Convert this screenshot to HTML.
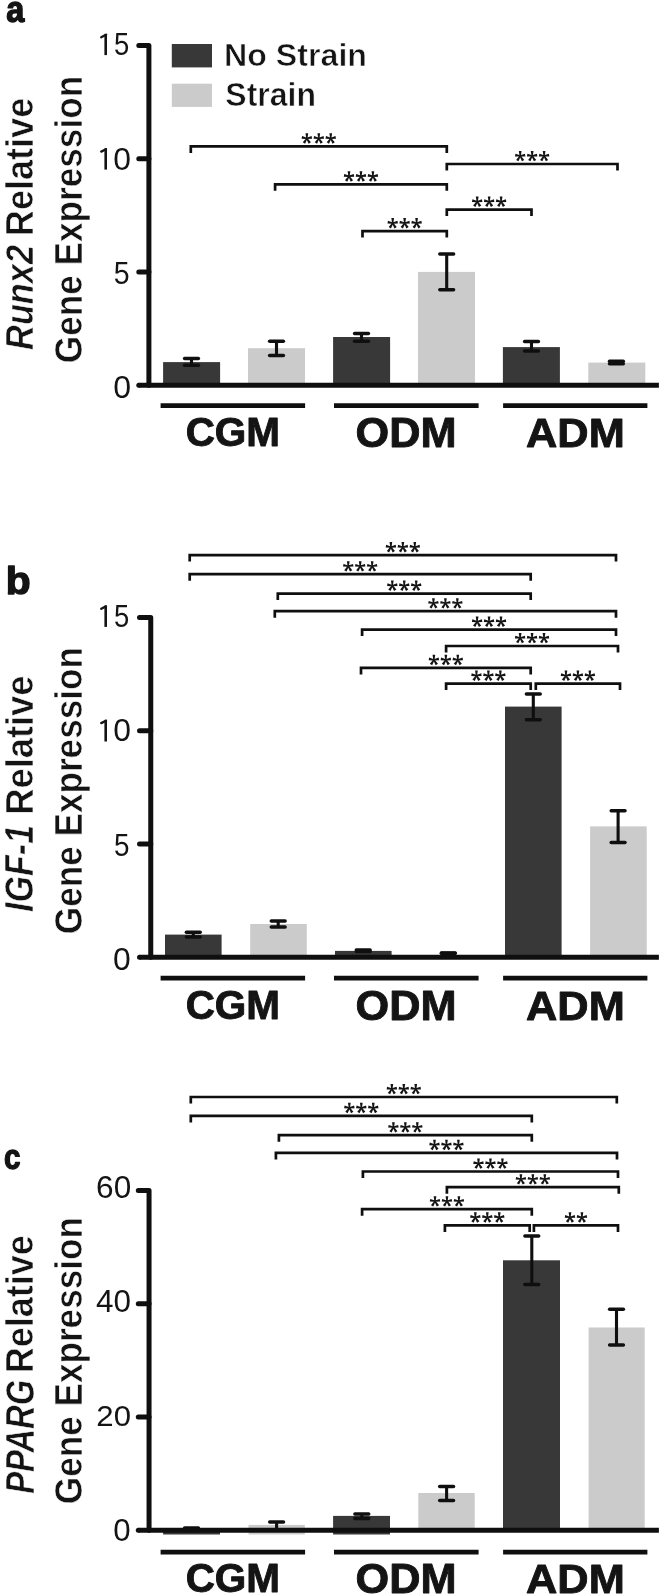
<!DOCTYPE html>
<html><head><meta charset="utf-8"><style>
html,body{margin:0;padding:0;background:#fff;}
svg{display:block;font-family:"Liberation Sans",sans-serif;will-change:transform;}
</style></head><body>
<svg width="661" height="1596" viewBox="0 0 661 1596">
<rect width="661" height="1596" fill="#fff"/>
<text transform="translate(6.33,22.33) scale(0.8880,1)" font-size="36.55" font-weight="bold" fill="#141414" stroke="#141414" stroke-width="1.40" stroke-linejoin="round">a</text>
<rect x="171.80" y="44.00" width="40.20" height="23.40" fill="#383838"/>
<rect x="171.80" y="83.70" width="40.20" height="23.20" fill="#cbcbcb"/>
<text transform="translate(224.05,65.89) scale(1.0265,1)" font-size="31.35" font-weight="bold" fill="#141414" stroke="#fff" stroke-width="0.60" stroke-linejoin="round">No Strain</text>
<text transform="translate(225.34,105.86) scale(0.9512,1)" font-size="33.65" font-weight="bold" fill="#141414" stroke="#fff" stroke-width="0.60" stroke-linejoin="round">Strain</text>
<text transform="translate(32.91,349.89) rotate(-90) scale(0.8862,1)" font-size="38.73" font-weight="bold" font-style="italic" fill="#141414" stroke="#fff" stroke-width="0.60" stroke-linejoin="round">Runx2</text>
<text transform="translate(33.21,236.13) rotate(-90) scale(0.9337,1)" font-size="38.65" font-weight="bold" fill="#141414" stroke="#fff" stroke-width="0.60" stroke-linejoin="round">Relative</text>
<text transform="translate(81.51,363.21) rotate(-90) scale(0.9135,1)" font-size="38.51" font-weight="bold" fill="#141414" stroke="#fff" stroke-width="0.60" stroke-linejoin="round">Gene Expression</text>
<rect x="163.10" y="362.10" width="57.00" height="21.90" fill="#383838"/>
<rect x="248.00" y="348.20" width="57.00" height="35.80" fill="#cbcbcb"/>
<rect x="333.10" y="337.00" width="57.00" height="47.00" fill="#383838"/>
<rect x="418.00" y="271.90" width="57.00" height="112.10" fill="#cbcbcb"/>
<rect x="502.90" y="347.10" width="57.00" height="36.90" fill="#383838"/>
<rect x="588.30" y="362.60" width="57.00" height="21.40" fill="#cbcbcb"/>
<line x1="191.50" y1="358.60" x2="191.50" y2="365.20" stroke="#0f0f0f" stroke-width="3.1" stroke-linecap="butt"/>
<line x1="184.60" y1="358.60" x2="198.40" y2="358.60" stroke="#0f0f0f" stroke-width="3.5" stroke-linecap="round"/>
<line x1="184.60" y1="365.20" x2="198.40" y2="365.20" stroke="#0f0f0f" stroke-width="3.5" stroke-linecap="round"/>
<line x1="276.50" y1="341.20" x2="276.50" y2="355.60" stroke="#0f0f0f" stroke-width="3.1" stroke-linecap="butt"/>
<line x1="269.60" y1="341.20" x2="283.40" y2="341.20" stroke="#0f0f0f" stroke-width="3.5" stroke-linecap="round"/>
<line x1="269.60" y1="355.60" x2="283.40" y2="355.60" stroke="#0f0f0f" stroke-width="3.5" stroke-linecap="round"/>
<line x1="361.50" y1="333.60" x2="361.50" y2="341.20" stroke="#0f0f0f" stroke-width="3.1" stroke-linecap="butt"/>
<line x1="354.60" y1="333.60" x2="368.40" y2="333.60" stroke="#0f0f0f" stroke-width="3.5" stroke-linecap="round"/>
<line x1="354.60" y1="341.20" x2="368.40" y2="341.20" stroke="#0f0f0f" stroke-width="3.5" stroke-linecap="round"/>
<line x1="446.70" y1="254.05" x2="446.70" y2="289.65" stroke="#0f0f0f" stroke-width="3.1" stroke-linecap="butt"/>
<line x1="439.80" y1="254.05" x2="453.60" y2="254.05" stroke="#0f0f0f" stroke-width="3.5" stroke-linecap="round"/>
<line x1="439.80" y1="289.65" x2="453.60" y2="289.65" stroke="#0f0f0f" stroke-width="3.5" stroke-linecap="round"/>
<line x1="531.50" y1="341.60" x2="531.50" y2="351.00" stroke="#0f0f0f" stroke-width="3.1" stroke-linecap="butt"/>
<line x1="524.60" y1="341.60" x2="538.40" y2="341.60" stroke="#0f0f0f" stroke-width="3.5" stroke-linecap="round"/>
<line x1="524.60" y1="351.00" x2="538.40" y2="351.00" stroke="#0f0f0f" stroke-width="3.5" stroke-linecap="round"/>
<line x1="616.40" y1="361.30" x2="616.40" y2="363.80" stroke="#0f0f0f" stroke-width="3.1" stroke-linecap="butt"/>
<line x1="609.50" y1="361.30" x2="623.30" y2="361.30" stroke="#0f0f0f" stroke-width="3.5" stroke-linecap="round"/>
<line x1="609.50" y1="363.80" x2="623.30" y2="363.80" stroke="#0f0f0f" stroke-width="3.5" stroke-linecap="round"/>
<path d="M138.80 45.40 H148.90 V385.30" fill="none" stroke="#0f0f0f" stroke-width="5.0" stroke-linecap="round" stroke-linejoin="round"/>
<line x1="138.80" y1="158.70" x2="148.90" y2="158.70" stroke="#0f0f0f" stroke-width="5.0" stroke-linecap="round"/>
<line x1="138.80" y1="272.00" x2="148.90" y2="272.00" stroke="#0f0f0f" stroke-width="5.0" stroke-linecap="round"/>
<line x1="138.80" y1="385.30" x2="658.90" y2="385.30" stroke="#0f0f0f" stroke-width="5.0" stroke-linecap="butt"/>
<circle cx="138.80" cy="385.30" r="2.50" fill="#0f0f0f"/>
<rect x="104.40" y="33.90" width="2.6" height="21.20" fill="#141414"/>
<line x1="106.00" y1="34.80" x2="101.20" y2="37.20" stroke="#141414" stroke-width="2.3" stroke-linecap="round"/>
<text transform="translate(114.10,55.09) scale(0.8813,1)" font-size="31.14" font-weight="normal" fill="#141414">5</text>
<rect x="104.40" y="148.30" width="2.6" height="21.30" fill="#141414"/>
<line x1="106.00" y1="149.20" x2="101.20" y2="151.60" stroke="#141414" stroke-width="2.3" stroke-linecap="round"/>
<text transform="translate(113.32,169.59) scale(1.0334,1)" font-size="30.85" font-weight="normal" fill="#141414">0</text>
<text transform="translate(113.86,284.19) scale(0.9072,1)" font-size="31.43" font-weight="normal" fill="#141414">5</text>
<text transform="translate(113.22,398.09) scale(1.0307,1)" font-size="31.13" font-weight="normal" fill="#141414">0</text>
<line x1="160.60" y1="405.70" x2="305.10" y2="405.70" stroke="#0f0f0f" stroke-width="4.8" stroke-linecap="butt"/>
<line x1="334.00" y1="405.70" x2="478.60" y2="405.70" stroke="#0f0f0f" stroke-width="4.8" stroke-linecap="butt"/>
<line x1="503.10" y1="405.70" x2="647.40" y2="405.70" stroke="#0f0f0f" stroke-width="4.8" stroke-linecap="butt"/>
<text transform="translate(185.63,446.45) scale(1.0159,1)" font-size="39.86" font-weight="bold" fill="#141414" stroke="#141414" stroke-width="0.90" stroke-linejoin="round">CGM</text>
<text transform="translate(355.62,447.23) scale(1.0321,1)" font-size="41.97" font-weight="bold" fill="#141414" stroke="#141414" stroke-width="0.90" stroke-linejoin="round">ODM</text>
<text transform="translate(526.05,447.05) scale(1.0458,1)" font-size="41.45" font-weight="bold" fill="#141414" stroke="#141414" stroke-width="0.90" stroke-linejoin="round">ADM</text>
<path d="M190.8 152.9 V146.4 H446.8 V152.9" fill="none" stroke="#0f0f0f" stroke-width="2.7"/>
<path d="M307.50 138.35 L308.20 133.35 L305.50 133.35 L306.20 138.35ZM306.97 137.71 L302.09 136.12 L301.61 138.78 L306.73 138.99ZM306.97 138.99 L312.09 138.78 L311.61 136.12 L306.73 137.71ZM306.30 138.01 L302.80 142.34 L305.10 143.76 L307.40 138.69ZM306.30 138.69 L308.60 143.76 L310.90 142.34 L307.40 138.01Z" fill="#141414"/>
<path d="M319.45 138.35 L320.15 133.35 L317.45 133.35 L318.15 138.35ZM318.92 137.71 L314.04 136.12 L313.56 138.78 L318.68 138.99ZM318.92 138.99 L324.04 138.78 L323.56 136.12 L318.68 137.71ZM318.25 138.01 L314.75 142.34 L317.05 143.76 L319.35 138.69ZM318.25 138.69 L320.55 143.76 L322.85 142.34 L319.35 138.01Z" fill="#141414"/>
<path d="M331.40 138.35 L332.10 133.35 L329.40 133.35 L330.10 138.35ZM330.87 137.71 L325.99 136.12 L325.51 138.78 L330.63 138.99ZM330.87 138.99 L335.99 138.78 L335.51 136.12 L330.63 137.71ZM330.20 138.01 L326.70 142.34 L329.00 143.76 L331.30 138.69ZM330.20 138.69 L332.50 143.76 L334.80 142.34 L331.30 138.01Z" fill="#141414"/>
<path d="M275.1 190.8 V184.3 H446.8 V190.8" fill="none" stroke="#0f0f0f" stroke-width="2.7"/>
<path d="M349.65 176.25 L350.35 171.25 L347.65 171.25 L348.35 176.25ZM349.12 175.61 L344.24 174.02 L343.76 176.68 L348.88 176.89ZM349.12 176.89 L354.24 176.68 L353.76 174.02 L348.88 175.61ZM348.45 175.91 L344.95 180.24 L347.25 181.66 L349.55 176.59ZM348.45 176.59 L350.75 181.66 L353.05 180.24 L349.55 175.91Z" fill="#141414"/>
<path d="M361.60 176.25 L362.30 171.25 L359.60 171.25 L360.30 176.25ZM361.07 175.61 L356.19 174.02 L355.71 176.68 L360.83 176.89ZM361.07 176.89 L366.19 176.68 L365.71 174.02 L360.83 175.61ZM360.40 175.91 L356.90 180.24 L359.20 181.66 L361.50 176.59ZM360.40 176.59 L362.70 181.66 L365.00 180.24 L361.50 175.91Z" fill="#141414"/>
<path d="M373.55 176.25 L374.25 171.25 L371.55 171.25 L372.25 176.25ZM373.02 175.61 L368.14 174.02 L367.66 176.68 L372.78 176.89ZM373.02 176.89 L378.14 176.68 L377.66 174.02 L372.78 175.61ZM372.35 175.91 L368.85 180.24 L371.15 181.66 L373.45 176.59ZM372.35 176.59 L374.65 181.66 L376.95 180.24 L373.45 175.91Z" fill="#141414"/>
<path d="M362.5 237.6 V231.1 H446.8 V237.6" fill="none" stroke="#0f0f0f" stroke-width="2.7"/>
<path d="M393.35 223.05 L394.05 218.05 L391.35 218.05 L392.05 223.05ZM392.82 222.41 L387.94 220.82 L387.46 223.48 L392.58 223.69ZM392.82 223.69 L397.94 223.48 L397.46 220.82 L392.58 222.41ZM392.15 222.71 L388.65 227.04 L390.95 228.46 L393.25 223.39ZM392.15 223.39 L394.45 228.46 L396.75 227.04 L393.25 222.71Z" fill="#141414"/>
<path d="M405.30 223.05 L406.00 218.05 L403.30 218.05 L404.00 223.05ZM404.77 222.41 L399.89 220.82 L399.41 223.48 L404.53 223.69ZM404.77 223.69 L409.89 223.48 L409.41 220.82 L404.53 222.41ZM404.10 222.71 L400.60 227.04 L402.90 228.46 L405.20 223.39ZM404.10 223.39 L406.40 228.46 L408.70 227.04 L405.20 222.71Z" fill="#141414"/>
<path d="M417.25 223.05 L417.95 218.05 L415.25 218.05 L415.95 223.05ZM416.72 222.41 L411.84 220.82 L411.36 223.48 L416.48 223.69ZM416.72 223.69 L421.84 223.48 L421.36 220.82 L416.48 222.41ZM416.05 222.71 L412.55 227.04 L414.85 228.46 L417.15 223.39ZM416.05 223.39 L418.35 228.46 L420.65 227.04 L417.15 222.71Z" fill="#141414"/>
<path d="M446.8 170.5 V164.0 H617.5 V170.5" fill="none" stroke="#0f0f0f" stroke-width="2.7"/>
<path d="M520.85 155.95 L521.55 150.95 L518.85 150.95 L519.55 155.95ZM520.32 155.31 L515.44 153.72 L514.96 156.38 L520.08 156.59ZM520.32 156.59 L525.44 156.38 L524.96 153.72 L520.08 155.31ZM519.65 155.61 L516.15 159.94 L518.45 161.36 L520.75 156.29ZM519.65 156.29 L521.95 161.36 L524.25 159.94 L520.75 155.61Z" fill="#141414"/>
<path d="M532.80 155.95 L533.50 150.95 L530.80 150.95 L531.50 155.95ZM532.27 155.31 L527.39 153.72 L526.91 156.38 L532.03 156.59ZM532.27 156.59 L537.39 156.38 L536.91 153.72 L532.03 155.31ZM531.60 155.61 L528.10 159.94 L530.40 161.36 L532.70 156.29ZM531.60 156.29 L533.90 161.36 L536.20 159.94 L532.70 155.61Z" fill="#141414"/>
<path d="M544.75 155.95 L545.45 150.95 L542.75 150.95 L543.45 155.95ZM544.22 155.31 L539.34 153.72 L538.86 156.38 L543.98 156.59ZM544.22 156.59 L549.34 156.38 L548.86 153.72 L543.98 155.31ZM543.55 155.61 L540.05 159.94 L542.35 161.36 L544.65 156.29ZM543.55 156.29 L545.85 161.36 L548.15 159.94 L544.65 155.61Z" fill="#141414"/>
<path d="M446.8 216.1 V209.6 H531.5 V216.1" fill="none" stroke="#0f0f0f" stroke-width="2.7"/>
<path d="M477.85 201.55 L478.55 196.55 L475.85 196.55 L476.55 201.55ZM477.32 200.91 L472.44 199.32 L471.96 201.98 L477.08 202.19ZM477.32 202.19 L482.44 201.98 L481.96 199.32 L477.08 200.91ZM476.65 201.21 L473.15 205.54 L475.45 206.96 L477.75 201.89ZM476.65 201.89 L478.95 206.96 L481.25 205.54 L477.75 201.21Z" fill="#141414"/>
<path d="M489.80 201.55 L490.50 196.55 L487.80 196.55 L488.50 201.55ZM489.27 200.91 L484.39 199.32 L483.91 201.98 L489.03 202.19ZM489.27 202.19 L494.39 201.98 L493.91 199.32 L489.03 200.91ZM488.60 201.21 L485.10 205.54 L487.40 206.96 L489.70 201.89ZM488.60 201.89 L490.90 206.96 L493.20 205.54 L489.70 201.21Z" fill="#141414"/>
<path d="M501.75 201.55 L502.45 196.55 L499.75 196.55 L500.45 201.55ZM501.22 200.91 L496.34 199.32 L495.86 201.98 L500.98 202.19ZM501.22 202.19 L506.34 201.98 L505.86 199.32 L500.98 200.91ZM500.55 201.21 L497.05 205.54 L499.35 206.96 L501.65 201.89ZM500.55 201.89 L502.85 206.96 L505.15 205.54 L501.65 201.21Z" fill="#141414"/>
<text transform="translate(5.74,594.40) scale(1.0306,1)" font-size="39.59" font-weight="bold" fill="#141414" stroke="#141414" stroke-width="1.40" stroke-linejoin="round">b</text>
<text transform="translate(33.30,911.88) rotate(-90) scale(0.8419,1)" font-size="40.42" font-weight="bold" font-style="italic" fill="#141414" stroke="#fff" stroke-width="0.60" stroke-linejoin="round">IGF-1</text>
<text transform="translate(33.21,814.64) rotate(-90) scale(0.9379,1)" font-size="38.65" font-weight="bold" fill="#141414" stroke="#fff" stroke-width="0.60" stroke-linejoin="round">Relative</text>
<text transform="translate(81.51,934.21) rotate(-90) scale(0.9132,1)" font-size="38.51" font-weight="bold" fill="#141414" stroke="#fff" stroke-width="0.60" stroke-linejoin="round">Gene Expression</text>
<rect x="165.00" y="934.60" width="56.60" height="21.40" fill="#383838"/>
<rect x="250.20" y="924.00" width="56.60" height="32.00" fill="#cbcbcb"/>
<rect x="335.00" y="950.90" width="56.60" height="5.10" fill="#383838"/>
<rect x="420.00" y="955.20" width="56.60" height="0.80" fill="#cbcbcb"/>
<rect x="505.00" y="706.60" width="56.60" height="249.40" fill="#383838"/>
<rect x="590.10" y="826.40" width="56.60" height="129.60" fill="#cbcbcb"/>
<line x1="193.30" y1="932.30" x2="193.30" y2="937.00" stroke="#0f0f0f" stroke-width="3.1" stroke-linecap="butt"/>
<line x1="186.40" y1="932.30" x2="200.20" y2="932.30" stroke="#0f0f0f" stroke-width="3.5" stroke-linecap="round"/>
<line x1="186.40" y1="937.00" x2="200.20" y2="937.00" stroke="#0f0f0f" stroke-width="3.5" stroke-linecap="round"/>
<line x1="278.20" y1="921.00" x2="278.20" y2="927.00" stroke="#0f0f0f" stroke-width="3.1" stroke-linecap="butt"/>
<line x1="271.30" y1="921.00" x2="285.10" y2="921.00" stroke="#0f0f0f" stroke-width="3.5" stroke-linecap="round"/>
<line x1="271.30" y1="927.00" x2="285.10" y2="927.00" stroke="#0f0f0f" stroke-width="3.5" stroke-linecap="round"/>
<line x1="363.20" y1="950.00" x2="363.20" y2="951.60" stroke="#0f0f0f" stroke-width="3.1" stroke-linecap="butt"/>
<line x1="356.30" y1="950.00" x2="370.10" y2="950.00" stroke="#0f0f0f" stroke-width="3.5" stroke-linecap="round"/>
<line x1="356.30" y1="951.60" x2="370.10" y2="951.60" stroke="#0f0f0f" stroke-width="3.5" stroke-linecap="round"/>
<line x1="448.30" y1="953.00" x2="448.30" y2="953.20" stroke="#0f0f0f" stroke-width="3.1" stroke-linecap="butt"/>
<line x1="441.40" y1="953.00" x2="455.20" y2="953.00" stroke="#0f0f0f" stroke-width="3.5" stroke-linecap="round"/>
<line x1="441.40" y1="953.20" x2="455.20" y2="953.20" stroke="#0f0f0f" stroke-width="3.5" stroke-linecap="round"/>
<line x1="533.30" y1="693.90" x2="533.30" y2="719.80" stroke="#0f0f0f" stroke-width="3.1" stroke-linecap="butt"/>
<line x1="526.40" y1="693.90" x2="540.20" y2="693.90" stroke="#0f0f0f" stroke-width="3.5" stroke-linecap="round"/>
<line x1="526.40" y1="719.80" x2="540.20" y2="719.80" stroke="#0f0f0f" stroke-width="3.5" stroke-linecap="round"/>
<line x1="618.10" y1="810.70" x2="618.10" y2="842.60" stroke="#0f0f0f" stroke-width="3.1" stroke-linecap="butt"/>
<line x1="611.20" y1="810.70" x2="625.00" y2="810.70" stroke="#0f0f0f" stroke-width="3.5" stroke-linecap="round"/>
<line x1="611.20" y1="842.60" x2="625.00" y2="842.60" stroke="#0f0f0f" stroke-width="3.5" stroke-linecap="round"/>
<path d="M139.50 617.40 H150.75 V957.30" fill="none" stroke="#0f0f0f" stroke-width="5.0" stroke-linecap="round" stroke-linejoin="round"/>
<line x1="139.50" y1="730.70" x2="150.75" y2="730.70" stroke="#0f0f0f" stroke-width="5.0" stroke-linecap="round"/>
<line x1="139.50" y1="844.00" x2="150.75" y2="844.00" stroke="#0f0f0f" stroke-width="5.0" stroke-linecap="round"/>
<line x1="139.50" y1="957.30" x2="658.90" y2="957.30" stroke="#0f0f0f" stroke-width="5.0" stroke-linecap="butt"/>
<circle cx="139.50" cy="957.30" r="2.50" fill="#0f0f0f"/>
<rect x="104.40" y="605.50" width="2.6" height="21.40" fill="#141414"/>
<line x1="106.00" y1="606.40" x2="101.20" y2="608.80" stroke="#141414" stroke-width="2.3" stroke-linecap="round"/>
<text transform="translate(114.10,626.89) scale(0.8733,1)" font-size="31.43" font-weight="normal" fill="#141414">5</text>
<rect x="104.40" y="719.80" width="2.6" height="21.70" fill="#141414"/>
<line x1="106.00" y1="720.70" x2="101.20" y2="723.10" stroke="#141414" stroke-width="2.3" stroke-linecap="round"/>
<text transform="translate(113.32,741.49) scale(1.0149,1)" font-size="31.41" font-weight="normal" fill="#141414">0</text>
<text transform="translate(113.89,855.98) scale(0.8789,1)" font-size="31.71" font-weight="normal" fill="#141414">5</text>
<text transform="translate(113.02,970.49) scale(1.0287,1)" font-size="30.99" font-weight="normal" fill="#141414">0</text>
<line x1="160.60" y1="978.20" x2="305.10" y2="978.20" stroke="#0f0f0f" stroke-width="4.8" stroke-linecap="butt"/>
<line x1="334.00" y1="978.20" x2="478.60" y2="978.20" stroke="#0f0f0f" stroke-width="4.8" stroke-linecap="butt"/>
<line x1="503.10" y1="978.20" x2="647.40" y2="978.20" stroke="#0f0f0f" stroke-width="4.8" stroke-linecap="butt"/>
<text transform="translate(185.63,1018.95) scale(1.0159,1)" font-size="39.86" font-weight="bold" fill="#141414" stroke="#141414" stroke-width="0.90" stroke-linejoin="round">CGM</text>
<text transform="translate(355.62,1019.73) scale(1.0321,1)" font-size="41.97" font-weight="bold" fill="#141414" stroke="#141414" stroke-width="0.90" stroke-linejoin="round">ODM</text>
<text transform="translate(526.05,1019.55) scale(1.0458,1)" font-size="41.45" font-weight="bold" fill="#141414" stroke="#141414" stroke-width="0.90" stroke-linejoin="round">ADM</text>
<path d="M189.7 561.6 V555.1 H616 V561.6" fill="none" stroke="#0f0f0f" stroke-width="2.7"/>
<path d="M391.55 547.05 L392.25 542.05 L389.55 542.05 L390.25 547.05ZM391.02 546.41 L386.14 544.82 L385.66 547.48 L390.78 547.69ZM391.02 547.69 L396.14 547.48 L395.66 544.82 L390.78 546.41ZM390.35 546.71 L386.85 551.04 L389.15 552.46 L391.45 547.39ZM390.35 547.39 L392.65 552.46 L394.95 551.04 L391.45 546.71Z" fill="#141414"/>
<path d="M403.50 547.05 L404.20 542.05 L401.50 542.05 L402.20 547.05ZM402.97 546.41 L398.09 544.82 L397.61 547.48 L402.73 547.69ZM402.97 547.69 L408.09 547.48 L407.61 544.82 L402.73 546.41ZM402.30 546.71 L398.80 551.04 L401.10 552.46 L403.40 547.39ZM402.30 547.39 L404.60 552.46 L406.90 551.04 L403.40 546.71Z" fill="#141414"/>
<path d="M415.45 547.05 L416.15 542.05 L413.45 542.05 L414.15 547.05ZM414.92 546.41 L410.04 544.82 L409.56 547.48 L414.68 547.69ZM414.92 547.69 L420.04 547.48 L419.56 544.82 L414.68 546.41ZM414.25 546.71 L410.75 551.04 L413.05 552.46 L415.35 547.39ZM414.25 547.39 L416.55 552.46 L418.85 551.04 L415.35 546.71Z" fill="#141414"/>
<path d="M189.7 580.7 V574.2 H530.7 V580.7" fill="none" stroke="#0f0f0f" stroke-width="2.7"/>
<path d="M348.90 566.15 L349.60 561.15 L346.90 561.15 L347.60 566.15ZM348.37 565.51 L343.49 563.92 L343.01 566.58 L348.13 566.79ZM348.37 566.79 L353.49 566.58 L353.01 563.92 L348.13 565.51ZM347.70 565.81 L344.20 570.14 L346.50 571.56 L348.80 566.49ZM347.70 566.49 L350.00 571.56 L352.30 570.14 L348.80 565.81Z" fill="#141414"/>
<path d="M360.85 566.15 L361.55 561.15 L358.85 561.15 L359.55 566.15ZM360.32 565.51 L355.44 563.92 L354.96 566.58 L360.08 566.79ZM360.32 566.79 L365.44 566.58 L364.96 563.92 L360.08 565.51ZM359.65 565.81 L356.15 570.14 L358.45 571.56 L360.75 566.49ZM359.65 566.49 L361.95 571.56 L364.25 570.14 L360.75 565.81Z" fill="#141414"/>
<path d="M372.80 566.15 L373.50 561.15 L370.80 561.15 L371.50 566.15ZM372.27 565.51 L367.39 563.92 L366.91 566.58 L372.03 566.79ZM372.27 566.79 L377.39 566.58 L376.91 563.92 L372.03 565.51ZM371.60 565.81 L368.10 570.14 L370.40 571.56 L372.70 566.49ZM371.60 566.49 L373.90 571.56 L376.20 570.14 L372.70 565.81Z" fill="#141414"/>
<path d="M277.8 600.1 V593.6 H530.7 V600.1" fill="none" stroke="#0f0f0f" stroke-width="2.7"/>
<path d="M392.95 585.55 L393.65 580.55 L390.95 580.55 L391.65 585.55ZM392.42 584.91 L387.54 583.32 L387.06 585.98 L392.18 586.19ZM392.42 586.19 L397.54 585.98 L397.06 583.32 L392.18 584.91ZM391.75 585.21 L388.25 589.54 L390.55 590.96 L392.85 585.89ZM391.75 585.89 L394.05 590.96 L396.35 589.54 L392.85 585.21Z" fill="#141414"/>
<path d="M404.90 585.55 L405.60 580.55 L402.90 580.55 L403.60 585.55ZM404.37 584.91 L399.49 583.32 L399.01 585.98 L404.13 586.19ZM404.37 586.19 L409.49 585.98 L409.01 583.32 L404.13 584.91ZM403.70 585.21 L400.20 589.54 L402.50 590.96 L404.80 585.89ZM403.70 585.89 L406.00 590.96 L408.30 589.54 L404.80 585.21Z" fill="#141414"/>
<path d="M416.85 585.55 L417.55 580.55 L414.85 580.55 L415.55 585.55ZM416.32 584.91 L411.44 583.32 L410.96 585.98 L416.08 586.19ZM416.32 586.19 L421.44 585.98 L420.96 583.32 L416.08 584.91ZM415.65 585.21 L412.15 589.54 L414.45 590.96 L416.75 585.89ZM415.65 585.89 L417.95 590.96 L420.25 589.54 L416.75 585.21Z" fill="#141414"/>
<path d="M274.8 617.7 V611.2 H616 V617.7" fill="none" stroke="#0f0f0f" stroke-width="2.7"/>
<path d="M434.10 603.15 L434.80 598.15 L432.10 598.15 L432.80 603.15ZM433.57 602.51 L428.69 600.92 L428.21 603.58 L433.33 603.79ZM433.57 603.79 L438.69 603.58 L438.21 600.92 L433.33 602.51ZM432.90 602.81 L429.40 607.14 L431.70 608.56 L434.00 603.49ZM432.90 603.49 L435.20 608.56 L437.50 607.14 L434.00 602.81Z" fill="#141414"/>
<path d="M446.05 603.15 L446.75 598.15 L444.05 598.15 L444.75 603.15ZM445.52 602.51 L440.64 600.92 L440.16 603.58 L445.28 603.79ZM445.52 603.79 L450.64 603.58 L450.16 600.92 L445.28 602.51ZM444.85 602.81 L441.35 607.14 L443.65 608.56 L445.95 603.49ZM444.85 603.49 L447.15 608.56 L449.45 607.14 L445.95 602.81Z" fill="#141414"/>
<path d="M458.00 603.15 L458.70 598.15 L456.00 598.15 L456.70 603.15ZM457.47 602.51 L452.59 600.92 L452.11 603.58 L457.23 603.79ZM457.47 603.79 L462.59 603.58 L462.11 600.92 L457.23 602.51ZM456.80 602.81 L453.30 607.14 L455.60 608.56 L457.90 603.49ZM456.80 603.49 L459.10 608.56 L461.40 607.14 L457.90 602.81Z" fill="#141414"/>
<path d="M362.1 636.1 V629.6 H616 V636.1" fill="none" stroke="#0f0f0f" stroke-width="2.7"/>
<path d="M477.75 621.55 L478.45 616.55 L475.75 616.55 L476.45 621.55ZM477.22 620.91 L472.34 619.32 L471.86 621.98 L476.98 622.19ZM477.22 622.19 L482.34 621.98 L481.86 619.32 L476.98 620.91ZM476.55 621.21 L473.05 625.54 L475.35 626.96 L477.65 621.89ZM476.55 621.89 L478.85 626.96 L481.15 625.54 L477.65 621.21Z" fill="#141414"/>
<path d="M489.70 621.55 L490.40 616.55 L487.70 616.55 L488.40 621.55ZM489.17 620.91 L484.29 619.32 L483.81 621.98 L488.93 622.19ZM489.17 622.19 L494.29 621.98 L493.81 619.32 L488.93 620.91ZM488.50 621.21 L485.00 625.54 L487.30 626.96 L489.60 621.89ZM488.50 621.89 L490.80 626.96 L493.10 625.54 L489.60 621.21Z" fill="#141414"/>
<path d="M501.65 621.55 L502.35 616.55 L499.65 616.55 L500.35 621.55ZM501.12 620.91 L496.24 619.32 L495.76 621.98 L500.88 622.19ZM501.12 622.19 L506.24 621.98 L505.76 619.32 L500.88 620.91ZM500.45 621.21 L496.95 625.54 L499.25 626.96 L501.55 621.89ZM500.45 621.89 L502.75 626.96 L505.05 625.54 L501.55 621.21Z" fill="#141414"/>
<path d="M446.1 652.5 V646.0 H618 V652.5" fill="none" stroke="#0f0f0f" stroke-width="2.7"/>
<path d="M520.75 637.95 L521.45 632.95 L518.75 632.95 L519.45 637.95ZM520.22 637.31 L515.34 635.72 L514.86 638.38 L519.98 638.59ZM520.22 638.59 L525.34 638.38 L524.86 635.72 L519.98 637.31ZM519.55 637.61 L516.05 641.94 L518.35 643.36 L520.65 638.29ZM519.55 638.29 L521.85 643.36 L524.15 641.94 L520.65 637.61Z" fill="#141414"/>
<path d="M532.70 637.95 L533.40 632.95 L530.70 632.95 L531.40 637.95ZM532.17 637.31 L527.29 635.72 L526.81 638.38 L531.93 638.59ZM532.17 638.59 L537.29 638.38 L536.81 635.72 L531.93 637.31ZM531.50 637.61 L528.00 641.94 L530.30 643.36 L532.60 638.29ZM531.50 638.29 L533.80 643.36 L536.10 641.94 L532.60 637.61Z" fill="#141414"/>
<path d="M544.65 637.95 L545.35 632.95 L542.65 632.95 L543.35 637.95ZM544.12 637.31 L539.24 635.72 L538.76 638.38 L543.88 638.59ZM544.12 638.59 L549.24 638.38 L548.76 635.72 L543.88 637.31ZM543.45 637.61 L539.95 641.94 L542.25 643.36 L544.55 638.29ZM543.45 638.29 L545.75 643.36 L548.05 641.94 L544.55 637.61Z" fill="#141414"/>
<path d="M361.0 674.4 V667.9 H530.7 V674.4" fill="none" stroke="#0f0f0f" stroke-width="2.7"/>
<path d="M434.55 659.85 L435.25 654.85 L432.55 654.85 L433.25 659.85ZM434.02 659.21 L429.14 657.62 L428.66 660.28 L433.78 660.49ZM434.02 660.49 L439.14 660.28 L438.66 657.62 L433.78 659.21ZM433.35 659.51 L429.85 663.84 L432.15 665.26 L434.45 660.19ZM433.35 660.19 L435.65 665.26 L437.95 663.84 L434.45 659.51Z" fill="#141414"/>
<path d="M446.50 659.85 L447.20 654.85 L444.50 654.85 L445.20 659.85ZM445.97 659.21 L441.09 657.62 L440.61 660.28 L445.73 660.49ZM445.97 660.49 L451.09 660.28 L450.61 657.62 L445.73 659.21ZM445.30 659.51 L441.80 663.84 L444.10 665.26 L446.40 660.19ZM445.30 660.19 L447.60 665.26 L449.90 663.84 L446.40 659.51Z" fill="#141414"/>
<path d="M458.45 659.85 L459.15 654.85 L456.45 654.85 L457.15 659.85ZM457.92 659.21 L453.04 657.62 L452.56 660.28 L457.68 660.49ZM457.92 660.49 L463.04 660.28 L462.56 657.62 L457.68 659.21ZM457.25 659.51 L453.75 663.84 L456.05 665.26 L458.35 660.19ZM457.25 660.19 L459.55 665.26 L461.85 663.84 L458.35 659.51Z" fill="#141414"/>
<path d="M446.1 690.1 V683.6 H530.7 V690.1" fill="none" stroke="#0f0f0f" stroke-width="2.7"/>
<path d="M477.10 675.55 L477.80 670.55 L475.10 670.55 L475.80 675.55ZM476.57 674.91 L471.69 673.32 L471.21 675.98 L476.33 676.19ZM476.57 676.19 L481.69 675.98 L481.21 673.32 L476.33 674.91ZM475.90 675.21 L472.40 679.54 L474.70 680.96 L477.00 675.89ZM475.90 675.89 L478.20 680.96 L480.50 679.54 L477.00 675.21Z" fill="#141414"/>
<path d="M489.05 675.55 L489.75 670.55 L487.05 670.55 L487.75 675.55ZM488.52 674.91 L483.64 673.32 L483.16 675.98 L488.28 676.19ZM488.52 676.19 L493.64 675.98 L493.16 673.32 L488.28 674.91ZM487.85 675.21 L484.35 679.54 L486.65 680.96 L488.95 675.89ZM487.85 675.89 L490.15 680.96 L492.45 679.54 L488.95 675.21Z" fill="#141414"/>
<path d="M501.00 675.55 L501.70 670.55 L499.00 670.55 L499.70 675.55ZM500.47 674.91 L495.59 673.32 L495.11 675.98 L500.23 676.19ZM500.47 676.19 L505.59 675.98 L505.11 673.32 L500.23 674.91ZM499.80 675.21 L496.30 679.54 L498.60 680.96 L500.90 675.89ZM499.80 675.89 L502.10 680.96 L504.40 679.54 L500.90 675.21Z" fill="#141414"/>
<path d="M535.8 690.1 V683.6 H620 V690.1" fill="none" stroke="#0f0f0f" stroke-width="2.7"/>
<path d="M566.60 675.55 L567.30 670.55 L564.60 670.55 L565.30 675.55ZM566.07 674.91 L561.19 673.32 L560.71 675.98 L565.83 676.19ZM566.07 676.19 L571.19 675.98 L570.71 673.32 L565.83 674.91ZM565.40 675.21 L561.90 679.54 L564.20 680.96 L566.50 675.89ZM565.40 675.89 L567.70 680.96 L570.00 679.54 L566.50 675.21Z" fill="#141414"/>
<path d="M578.55 675.55 L579.25 670.55 L576.55 670.55 L577.25 675.55ZM578.02 674.91 L573.14 673.32 L572.66 675.98 L577.78 676.19ZM578.02 676.19 L583.14 675.98 L582.66 673.32 L577.78 674.91ZM577.35 675.21 L573.85 679.54 L576.15 680.96 L578.45 675.89ZM577.35 675.89 L579.65 680.96 L581.95 679.54 L578.45 675.21Z" fill="#141414"/>
<path d="M590.50 675.55 L591.20 670.55 L588.50 670.55 L589.20 675.55ZM589.97 674.91 L585.09 673.32 L584.61 675.98 L589.73 676.19ZM589.97 676.19 L595.09 675.98 L594.61 673.32 L589.73 674.91ZM589.30 675.21 L585.80 679.54 L588.10 680.96 L590.40 675.89ZM589.30 675.89 L591.60 680.96 L593.90 679.54 L590.40 675.21Z" fill="#141414"/>
<text transform="translate(4.02,1169.05) scale(0.8566,1)" font-size="34.55" font-weight="bold" fill="#141414" stroke="#141414" stroke-width="1.40" stroke-linejoin="round">c</text>
<text transform="translate(33.50,1493.86) rotate(-90) scale(0.8107,1)" font-size="40.42" font-weight="bold" font-style="italic" fill="#141414" stroke="#fff" stroke-width="0.60" stroke-linejoin="round">PPARG</text>
<text transform="translate(33.21,1373.32) rotate(-90) scale(0.9323,1)" font-size="38.65" font-weight="bold" fill="#141414" stroke="#fff" stroke-width="0.60" stroke-linejoin="round">Relative</text>
<text transform="translate(81.51,1504.21) rotate(-90) scale(0.9132,1)" font-size="38.51" font-weight="bold" fill="#141414" stroke="#fff" stroke-width="0.60" stroke-linejoin="round">Gene Expression</text>
<rect x="163.10" y="1530.50" width="56.90" height="4.00" fill="#383838"/>
<rect x="248.50" y="1524.90" width="56.30" height="9.60" fill="#cbcbcb"/>
<rect x="333.10" y="1515.90" width="56.90" height="18.60" fill="#383838"/>
<rect x="418.30" y="1493.00" width="56.40" height="36.00" fill="#cbcbcb"/>
<rect x="503.00" y="1260.30" width="57.00" height="268.70" fill="#383838"/>
<rect x="588.60" y="1327.50" width="56.10" height="201.50" fill="#cbcbcb"/>
<line x1="191.50" y1="1528.00" x2="191.50" y2="1530.50" stroke="#0f0f0f" stroke-width="3.1" stroke-linecap="butt"/>
<line x1="184.60" y1="1528.00" x2="198.40" y2="1528.00" stroke="#0f0f0f" stroke-width="3.5" stroke-linecap="round"/>
<line x1="184.60" y1="1530.50" x2="198.40" y2="1530.50" stroke="#0f0f0f" stroke-width="3.5" stroke-linecap="round"/>
<line x1="276.60" y1="1522.00" x2="276.60" y2="1530.00" stroke="#0f0f0f" stroke-width="3.1" stroke-linecap="butt"/>
<line x1="269.70" y1="1522.00" x2="283.50" y2="1522.00" stroke="#0f0f0f" stroke-width="3.5" stroke-linecap="round"/>
<line x1="269.70" y1="1530.00" x2="283.50" y2="1530.00" stroke="#0f0f0f" stroke-width="3.5" stroke-linecap="round"/>
<line x1="361.80" y1="1514.00" x2="361.80" y2="1518.40" stroke="#0f0f0f" stroke-width="3.1" stroke-linecap="butt"/>
<line x1="354.90" y1="1514.00" x2="368.70" y2="1514.00" stroke="#0f0f0f" stroke-width="3.5" stroke-linecap="round"/>
<line x1="354.90" y1="1518.40" x2="368.70" y2="1518.40" stroke="#0f0f0f" stroke-width="3.5" stroke-linecap="round"/>
<line x1="446.60" y1="1486.50" x2="446.60" y2="1500.60" stroke="#0f0f0f" stroke-width="3.1" stroke-linecap="butt"/>
<line x1="439.70" y1="1486.50" x2="453.50" y2="1486.50" stroke="#0f0f0f" stroke-width="3.5" stroke-linecap="round"/>
<line x1="439.70" y1="1500.60" x2="453.50" y2="1500.60" stroke="#0f0f0f" stroke-width="3.5" stroke-linecap="round"/>
<line x1="531.80" y1="1236.00" x2="531.80" y2="1284.40" stroke="#0f0f0f" stroke-width="3.1" stroke-linecap="butt"/>
<line x1="524.90" y1="1236.00" x2="538.70" y2="1236.00" stroke="#0f0f0f" stroke-width="3.5" stroke-linecap="round"/>
<line x1="524.90" y1="1284.40" x2="538.70" y2="1284.40" stroke="#0f0f0f" stroke-width="3.5" stroke-linecap="round"/>
<line x1="616.50" y1="1309.20" x2="616.50" y2="1344.90" stroke="#0f0f0f" stroke-width="3.1" stroke-linecap="butt"/>
<line x1="609.60" y1="1309.20" x2="623.40" y2="1309.20" stroke="#0f0f0f" stroke-width="3.5" stroke-linecap="round"/>
<line x1="609.60" y1="1344.90" x2="623.40" y2="1344.90" stroke="#0f0f0f" stroke-width="3.5" stroke-linecap="round"/>
<path d="M138.30 1190.40 H149.05 V1530.15" fill="none" stroke="#0f0f0f" stroke-width="5.0" stroke-linecap="round" stroke-linejoin="round"/>
<line x1="138.30" y1="1303.65" x2="149.05" y2="1303.65" stroke="#0f0f0f" stroke-width="5.0" stroke-linecap="round"/>
<line x1="138.30" y1="1416.90" x2="149.05" y2="1416.90" stroke="#0f0f0f" stroke-width="5.0" stroke-linecap="round"/>
<line x1="138.30" y1="1530.15" x2="658.90" y2="1530.15" stroke="#0f0f0f" stroke-width="5.0" stroke-linecap="butt"/>
<circle cx="138.30" cy="1530.15" r="2.50" fill="#0f0f0f"/>
<text transform="translate(96.12,1197.99) scale(1.0235,1)" font-size="30.85" font-weight="normal" fill="#141414">60</text>
<text transform="translate(96.07,1312.09) scale(1.0236,1)" font-size="30.70" font-weight="normal" fill="#141414">40</text>
<text transform="translate(96.34,1426.40) scale(1.0491,1)" font-size="29.72" font-weight="normal" fill="#141414">20</text>
<text transform="translate(113.25,1540.99) scale(1.0085,1)" font-size="30.99" font-weight="normal" fill="#141414">0</text>
<line x1="160.60" y1="1552.20" x2="305.10" y2="1552.20" stroke="#0f0f0f" stroke-width="4.8" stroke-linecap="butt"/>
<line x1="334.00" y1="1552.20" x2="478.60" y2="1552.20" stroke="#0f0f0f" stroke-width="4.8" stroke-linecap="butt"/>
<line x1="503.10" y1="1552.20" x2="647.40" y2="1552.20" stroke="#0f0f0f" stroke-width="4.8" stroke-linecap="butt"/>
<text transform="translate(185.63,1592.15) scale(1.0159,1)" font-size="39.86" font-weight="bold" fill="#141414" stroke="#141414" stroke-width="0.90" stroke-linejoin="round">CGM</text>
<text transform="translate(355.62,1592.93) scale(1.0321,1)" font-size="41.97" font-weight="bold" fill="#141414" stroke="#141414" stroke-width="0.90" stroke-linejoin="round">ODM</text>
<text transform="translate(526.05,1592.75) scale(1.0458,1)" font-size="41.45" font-weight="bold" fill="#141414" stroke="#141414" stroke-width="0.90" stroke-linejoin="round">ADM</text>
<path d="M190.8 1103.5 V1097.0 H616.8 V1103.5" fill="none" stroke="#0f0f0f" stroke-width="2.7"/>
<path d="M392.50 1088.95 L393.20 1083.95 L390.50 1083.95 L391.20 1088.95ZM391.97 1088.31 L387.09 1086.72 L386.61 1089.38 L391.73 1089.59ZM391.97 1089.59 L397.09 1089.38 L396.61 1086.72 L391.73 1088.31ZM391.30 1088.61 L387.80 1092.94 L390.10 1094.36 L392.40 1089.29ZM391.30 1089.29 L393.60 1094.36 L395.90 1092.94 L392.40 1088.61Z" fill="#141414"/>
<path d="M404.45 1088.95 L405.15 1083.95 L402.45 1083.95 L403.15 1088.95ZM403.92 1088.31 L399.04 1086.72 L398.56 1089.38 L403.68 1089.59ZM403.92 1089.59 L409.04 1089.38 L408.56 1086.72 L403.68 1088.31ZM403.25 1088.61 L399.75 1092.94 L402.05 1094.36 L404.35 1089.29ZM403.25 1089.29 L405.55 1094.36 L407.85 1092.94 L404.35 1088.61Z" fill="#141414"/>
<path d="M416.40 1088.95 L417.10 1083.95 L414.40 1083.95 L415.10 1088.95ZM415.87 1088.31 L410.99 1086.72 L410.51 1089.38 L415.63 1089.59ZM415.87 1089.59 L420.99 1089.38 L420.51 1086.72 L415.63 1088.31ZM415.20 1088.61 L411.70 1092.94 L414.00 1094.36 L416.30 1089.29ZM415.20 1089.29 L417.50 1094.36 L419.80 1092.94 L416.30 1088.61Z" fill="#141414"/>
<path d="M190.8 1122.4 V1115.9 H531.8 V1122.4" fill="none" stroke="#0f0f0f" stroke-width="2.7"/>
<path d="M350.00 1107.85 L350.70 1102.85 L348.00 1102.85 L348.70 1107.85ZM349.47 1107.21 L344.59 1105.62 L344.11 1108.28 L349.23 1108.49ZM349.47 1108.49 L354.59 1108.28 L354.11 1105.62 L349.23 1107.21ZM348.80 1107.51 L345.30 1111.84 L347.60 1113.26 L349.90 1108.19ZM348.80 1108.19 L351.10 1113.26 L353.40 1111.84 L349.90 1107.51Z" fill="#141414"/>
<path d="M361.95 1107.85 L362.65 1102.85 L359.95 1102.85 L360.65 1107.85ZM361.42 1107.21 L356.54 1105.62 L356.06 1108.28 L361.18 1108.49ZM361.42 1108.49 L366.54 1108.28 L366.06 1105.62 L361.18 1107.21ZM360.75 1107.51 L357.25 1111.84 L359.55 1113.26 L361.85 1108.19ZM360.75 1108.19 L363.05 1113.26 L365.35 1111.84 L361.85 1107.51Z" fill="#141414"/>
<path d="M373.90 1107.85 L374.60 1102.85 L371.90 1102.85 L372.60 1107.85ZM373.37 1107.21 L368.49 1105.62 L368.01 1108.28 L373.13 1108.49ZM373.37 1108.49 L378.49 1108.28 L378.01 1105.62 L373.13 1107.21ZM372.70 1107.51 L369.20 1111.84 L371.50 1113.26 L373.80 1108.19ZM372.70 1108.19 L375.00 1113.26 L377.30 1111.84 L373.80 1107.51Z" fill="#141414"/>
<path d="M278.9 1141.7 V1135.2 H531.8 V1141.7" fill="none" stroke="#0f0f0f" stroke-width="2.7"/>
<path d="M394.05 1127.15 L394.75 1122.15 L392.05 1122.15 L392.75 1127.15ZM393.52 1126.51 L388.64 1124.92 L388.16 1127.58 L393.28 1127.79ZM393.52 1127.79 L398.64 1127.58 L398.16 1124.92 L393.28 1126.51ZM392.85 1126.81 L389.35 1131.14 L391.65 1132.56 L393.95 1127.49ZM392.85 1127.49 L395.15 1132.56 L397.45 1131.14 L393.95 1126.81Z" fill="#141414"/>
<path d="M406.00 1127.15 L406.70 1122.15 L404.00 1122.15 L404.70 1127.15ZM405.47 1126.51 L400.59 1124.92 L400.11 1127.58 L405.23 1127.79ZM405.47 1127.79 L410.59 1127.58 L410.11 1124.92 L405.23 1126.51ZM404.80 1126.81 L401.30 1131.14 L403.60 1132.56 L405.90 1127.49ZM404.80 1127.49 L407.10 1132.56 L409.40 1131.14 L405.90 1126.81Z" fill="#141414"/>
<path d="M417.95 1127.15 L418.65 1122.15 L415.95 1122.15 L416.65 1127.15ZM417.42 1126.51 L412.54 1124.92 L412.06 1127.58 L417.18 1127.79ZM417.42 1127.79 L422.54 1127.58 L422.06 1124.92 L417.18 1126.51ZM416.75 1126.81 L413.25 1131.14 L415.55 1132.56 L417.85 1127.49ZM416.75 1127.49 L419.05 1132.56 L421.35 1131.14 L417.85 1126.81Z" fill="#141414"/>
<path d="M275.9 1159.4 V1152.9 H617 V1159.4" fill="none" stroke="#0f0f0f" stroke-width="2.7"/>
<path d="M435.15 1144.85 L435.85 1139.85 L433.15 1139.85 L433.85 1144.85ZM434.62 1144.21 L429.74 1142.62 L429.26 1145.28 L434.38 1145.49ZM434.62 1145.49 L439.74 1145.28 L439.26 1142.62 L434.38 1144.21ZM433.95 1144.51 L430.45 1148.84 L432.75 1150.26 L435.05 1145.19ZM433.95 1145.19 L436.25 1150.26 L438.55 1148.84 L435.05 1144.51Z" fill="#141414"/>
<path d="M447.10 1144.85 L447.80 1139.85 L445.10 1139.85 L445.80 1144.85ZM446.57 1144.21 L441.69 1142.62 L441.21 1145.28 L446.33 1145.49ZM446.57 1145.49 L451.69 1145.28 L451.21 1142.62 L446.33 1144.21ZM445.90 1144.51 L442.40 1148.84 L444.70 1150.26 L447.00 1145.19ZM445.90 1145.19 L448.20 1150.26 L450.50 1148.84 L447.00 1144.51Z" fill="#141414"/>
<path d="M459.05 1144.85 L459.75 1139.85 L457.05 1139.85 L457.75 1144.85ZM458.52 1144.21 L453.64 1142.62 L453.16 1145.28 L458.28 1145.49ZM458.52 1145.49 L463.64 1145.28 L463.16 1142.62 L458.28 1144.21ZM457.85 1144.51 L454.35 1148.84 L456.65 1150.26 L458.95 1145.19ZM457.85 1145.19 L460.15 1150.26 L462.45 1148.84 L458.95 1144.51Z" fill="#141414"/>
<path d="M362.9 1178.0 V1171.5 H618 V1178.0" fill="none" stroke="#0f0f0f" stroke-width="2.7"/>
<path d="M479.15 1163.45 L479.85 1158.45 L477.15 1158.45 L477.85 1163.45ZM478.62 1162.81 L473.74 1161.22 L473.26 1163.88 L478.38 1164.09ZM478.62 1164.09 L483.74 1163.88 L483.26 1161.22 L478.38 1162.81ZM477.95 1163.11 L474.45 1167.44 L476.75 1168.86 L479.05 1163.79ZM477.95 1163.79 L480.25 1168.86 L482.55 1167.44 L479.05 1163.11Z" fill="#141414"/>
<path d="M491.10 1163.45 L491.80 1158.45 L489.10 1158.45 L489.80 1163.45ZM490.57 1162.81 L485.69 1161.22 L485.21 1163.88 L490.33 1164.09ZM490.57 1164.09 L495.69 1163.88 L495.21 1161.22 L490.33 1162.81ZM489.90 1163.11 L486.40 1167.44 L488.70 1168.86 L491.00 1163.79ZM489.90 1163.79 L492.20 1168.86 L494.50 1167.44 L491.00 1163.11Z" fill="#141414"/>
<path d="M503.05 1163.45 L503.75 1158.45 L501.05 1158.45 L501.75 1163.45ZM502.52 1162.81 L497.64 1161.22 L497.16 1163.88 L502.28 1164.09ZM502.52 1164.09 L507.64 1163.88 L507.16 1161.22 L502.28 1162.81ZM501.85 1163.11 L498.35 1167.44 L500.65 1168.86 L502.95 1163.79ZM501.85 1163.79 L504.15 1168.86 L506.45 1167.44 L502.95 1163.11Z" fill="#141414"/>
<path d="M446.9 1193.7 V1187.2 H618.8 V1193.7" fill="none" stroke="#0f0f0f" stroke-width="2.7"/>
<path d="M521.55 1179.15 L522.25 1174.15 L519.55 1174.15 L520.25 1179.15ZM521.02 1178.51 L516.14 1176.92 L515.66 1179.58 L520.78 1179.79ZM521.02 1179.79 L526.14 1179.58 L525.66 1176.92 L520.78 1178.51ZM520.35 1178.81 L516.85 1183.14 L519.15 1184.56 L521.45 1179.49ZM520.35 1179.49 L522.65 1184.56 L524.95 1183.14 L521.45 1178.81Z" fill="#141414"/>
<path d="M533.50 1179.15 L534.20 1174.15 L531.50 1174.15 L532.20 1179.15ZM532.97 1178.51 L528.09 1176.92 L527.61 1179.58 L532.73 1179.79ZM532.97 1179.79 L538.09 1179.58 L537.61 1176.92 L532.73 1178.51ZM532.30 1178.81 L528.80 1183.14 L531.10 1184.56 L533.40 1179.49ZM532.30 1179.49 L534.60 1184.56 L536.90 1183.14 L533.40 1178.81Z" fill="#141414"/>
<path d="M545.45 1179.15 L546.15 1174.15 L543.45 1174.15 L544.15 1179.15ZM544.92 1178.51 L540.04 1176.92 L539.56 1179.58 L544.68 1179.79ZM544.92 1179.79 L550.04 1179.58 L549.56 1176.92 L544.68 1178.51ZM544.25 1178.81 L540.75 1183.14 L543.05 1184.56 L545.35 1179.49ZM544.25 1179.49 L546.55 1184.56 L548.85 1183.14 L545.35 1178.81Z" fill="#141414"/>
<path d="M362.1 1215.7 V1209.2 H531.8 V1215.7" fill="none" stroke="#0f0f0f" stroke-width="2.7"/>
<path d="M435.65 1201.15 L436.35 1196.15 L433.65 1196.15 L434.35 1201.15ZM435.12 1200.51 L430.24 1198.92 L429.76 1201.58 L434.88 1201.79ZM435.12 1201.79 L440.24 1201.58 L439.76 1198.92 L434.88 1200.51ZM434.45 1200.81 L430.95 1205.14 L433.25 1206.56 L435.55 1201.49ZM434.45 1201.49 L436.75 1206.56 L439.05 1205.14 L435.55 1200.81Z" fill="#141414"/>
<path d="M447.60 1201.15 L448.30 1196.15 L445.60 1196.15 L446.30 1201.15ZM447.07 1200.51 L442.19 1198.92 L441.71 1201.58 L446.83 1201.79ZM447.07 1201.79 L452.19 1201.58 L451.71 1198.92 L446.83 1200.51ZM446.40 1200.81 L442.90 1205.14 L445.20 1206.56 L447.50 1201.49ZM446.40 1201.49 L448.70 1206.56 L451.00 1205.14 L447.50 1200.81Z" fill="#141414"/>
<path d="M459.55 1201.15 L460.25 1196.15 L457.55 1196.15 L458.25 1201.15ZM459.02 1200.51 L454.14 1198.92 L453.66 1201.58 L458.78 1201.79ZM459.02 1201.79 L464.14 1201.58 L463.66 1198.92 L458.78 1200.51ZM458.35 1200.81 L454.85 1205.14 L457.15 1206.56 L459.45 1201.49ZM458.35 1201.49 L460.65 1206.56 L462.95 1205.14 L459.45 1200.81Z" fill="#141414"/>
<path d="M444.9 1231.9 V1225.4 H529.7 V1231.9" fill="none" stroke="#0f0f0f" stroke-width="2.7"/>
<path d="M476.00 1217.35 L476.70 1212.35 L474.00 1212.35 L474.70 1217.35ZM475.47 1216.71 L470.59 1215.12 L470.11 1217.78 L475.23 1217.99ZM475.47 1217.99 L480.59 1217.78 L480.11 1215.12 L475.23 1216.71ZM474.80 1217.01 L471.30 1221.34 L473.60 1222.76 L475.90 1217.69ZM474.80 1217.69 L477.10 1222.76 L479.40 1221.34 L475.90 1217.01Z" fill="#141414"/>
<path d="M487.95 1217.35 L488.65 1212.35 L485.95 1212.35 L486.65 1217.35ZM487.42 1216.71 L482.54 1215.12 L482.06 1217.78 L487.18 1217.99ZM487.42 1217.99 L492.54 1217.78 L492.06 1215.12 L487.18 1216.71ZM486.75 1217.01 L483.25 1221.34 L485.55 1222.76 L487.85 1217.69ZM486.75 1217.69 L489.05 1222.76 L491.35 1221.34 L487.85 1217.01Z" fill="#141414"/>
<path d="M499.90 1217.35 L500.60 1212.35 L497.90 1212.35 L498.60 1217.35ZM499.37 1216.71 L494.49 1215.12 L494.01 1217.78 L499.13 1217.99ZM499.37 1217.99 L504.49 1217.78 L504.01 1215.12 L499.13 1216.71ZM498.70 1217.01 L495.20 1221.34 L497.50 1222.76 L499.80 1217.69ZM498.70 1217.69 L501.00 1222.76 L503.30 1221.34 L499.80 1217.01Z" fill="#141414"/>
<path d="M533.9 1231.9 V1225.4 H618 V1231.9" fill="none" stroke="#0f0f0f" stroke-width="2.7"/>
<path d="M570.62 1217.35 L571.33 1212.35 L568.62 1212.35 L569.33 1217.35ZM570.09 1216.71 L565.21 1215.12 L564.74 1217.78 L569.86 1217.99ZM570.09 1217.99 L575.21 1217.78 L574.74 1215.12 L569.86 1216.71ZM569.42 1217.01 L565.93 1221.34 L568.22 1222.76 L570.53 1217.69ZM569.42 1217.69 L571.73 1222.76 L574.02 1221.34 L570.53 1217.01Z" fill="#141414"/>
<path d="M582.58 1217.35 L583.28 1212.35 L580.58 1212.35 L581.28 1217.35ZM582.04 1216.71 L577.16 1215.12 L576.69 1217.78 L581.81 1217.99ZM582.04 1217.99 L587.16 1217.78 L586.69 1215.12 L581.81 1216.71ZM581.37 1217.01 L577.88 1221.34 L580.17 1222.76 L582.48 1217.69ZM581.37 1217.69 L583.68 1222.76 L585.97 1221.34 L582.48 1217.01Z" fill="#141414"/>
</svg></body></html>
